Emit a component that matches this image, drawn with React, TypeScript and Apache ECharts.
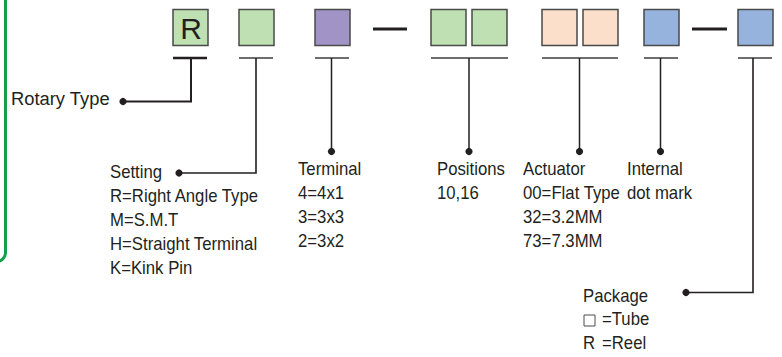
import React, { useEffect, useRef } from "react";
import * as echarts from "echarts";

const FONT = "'Liberation Sans', Arial, Helvetica, sans-serif";

// Texts of the diagram
const rotaryLabel = "Rotary Type";
const boxLetters = ["R", "", "", "", "", "", "", "", ""];
const boxColors = ["#bfe0b2", "#bfe0b2", "#a293c6", "#bfe0b2", "#bfe0b2", "#fbdfca", "#fbdfca", "#95b3dc", "#95b3dc"];
const settingLines = ["Setting", "R=Right Angle Type", "M=S.M.T", "H=Straight Terminal", "K=Kink Pin"];
const terminalLines = ["Terminal", "4=4x1", "3=3x3", "2=3x2"];
const positionLines = ["Positions", "10,16"];
const actuatorLines = ["Actuator", "00=Flat Type", "32=3.2MM", "73=7.3MM"];
const internalLines = ["Internal", "dot mark"];
const packageLines = ["Package", "=Tube", "=Reel"];
const packageKeys = ["", "R"];

const TEXT = "#231f20";

function txt(text: string, x: number, y: number, size = 18, sx = 0.93, align = "left") {
  return {
    type: "text",
    x,
    y,
    scaleX: sx,
    style: {
      text,
      x: 0,
      y: 0,
      fill: TEXT,
      font: `${size}px ${FONT}`,
      textAlign: align,
      textVerticalAlign: "middle",
      align,
      verticalAlign: "middle",
    },
  };
}

function block(lines: string[], x: number, y0: number, step: number) {
  return lines.map((l, i) => txt(l, x, y0 + i * step));
}

function line(x1: number, y1: number, x2: number, y2: number, stroke = "#231f20", lw = 2) {
  return { type: "line", shape: { x1, y1, x2, y2 }, style: { stroke, lineWidth: lw } };
}

function poly(points: number[][], lw = 2) {
  return { type: "polyline", shape: { points }, style: { stroke: "#231f20", lineWidth: lw, fill: null } };
}

function dot(x: number, y: number) {
  return { type: "circle", shape: { cx: x, cy: y, r: 3.6 }, style: { fill: "#231f20" } };
}

export default function App() {
  const ref = useRef<HTMLDivElement>(null);
  useEffect(() => {
    if (!ref.current) return;
    const chart = echarts.init(ref.current, null, { renderer: "svg" });

    const boxX = [173, 239, 315, 431, 472, 542, 583, 644, 738];
    const boxW = 35;
    const boxTop = 9.5;
    const boxH = 36;

    const els: any[] = [];

    // green frame corner
    els.push({
      type: "rect",
      shape: { x: -100, y: -50, width: 105.5, height: 311.5, r: 9 },
      style: { fill: "none", stroke: "#14a04b", lineWidth: 3 },
    });

    // boxes
    boxX.forEach((x, i) => {
      els.push({
        type: "rect",
        shape: { x, y: boxTop, width: boxW, height: boxH },
        style: { fill: boxColors[i], stroke: "#4a4a4a", lineWidth: 1.5 },
      });
      if (boxLetters[i]) {
        els.push(txt(boxLetters[i], x + boxW / 2 + 0.5, boxTop + boxH / 2 + 1, 30, 1, "center"));
      }
    });

    // dashes
    els.push(line(373, 29, 407, 29, "#231f20", 3));
    els.push(line(692, 29, 727, 29, "#231f20", 3));

    // underlines
    els.push(line(173, 58, 207, 58, "#231f20", 2.5));
    [[239, 273], [315, 349], [431, 508], [542, 618], [644, 678], [738, 772]].forEach(([a, b]) =>
      els.push(line(a, 58, b, 58, "#6d6e70", 2.2))
    );

    // connectors
    els.push(poly([[191, 58], [191, 101.5], [123, 101.5]], 2));
    els.push(dot(123, 101.5));
    els.push(poly([[256, 58], [256, 173], [179, 173]], 1.6));
    els.push(dot(179, 173));
    [331.5, 469, 579.5, 660.5].forEach((x) => {
      els.push(line(x, 58, x, 151.5, "#231f20", 1.5));
      els.push(dot(x, 151.5));
    });
    els.push(poly([[753, 58], [753, 292.5], [686, 292.5]], 1.6));
    els.push(dot(686, 292.5));

    // texts
    els.push(txt(rotaryLabel, 11, 99, 18, 1.02));
    els.push(...block(settingLines, 110, 171.5, 24));
    els.push(...block(terminalLines, 298, 168.5, 24));
    els.push(...block(positionLines, 437, 168.5, 24));
    els.push(...block(actuatorLines, 523, 168.5, 24));
    els.push(...block(internalLines, 627, 168.5, 24));
    els.push(txt(packageLines[0], 583, 295.5));
    els.push({
      type: "rect",
      shape: { x: 584, y: 315, width: 11, height: 11 },
      style: { fill: "none", stroke: "#4a4a4a", lineWidth: 1 },
    });
    els.push(txt(packageLines[1], 602, 319));
    els.push(txt(packageKeys[1], 583, 343));
    els.push(txt(packageLines[2], 602, 343));

    chart.setOption({ animation: false, graphic: { elements: els } });
    return () => chart.dispose();
  }, []);

  return (
    <div
      ref={ref}
      style={{ position: "absolute", left: 0, top: 0, width: 782, height: 357, background: "#fff" }}
    />
  );
}
